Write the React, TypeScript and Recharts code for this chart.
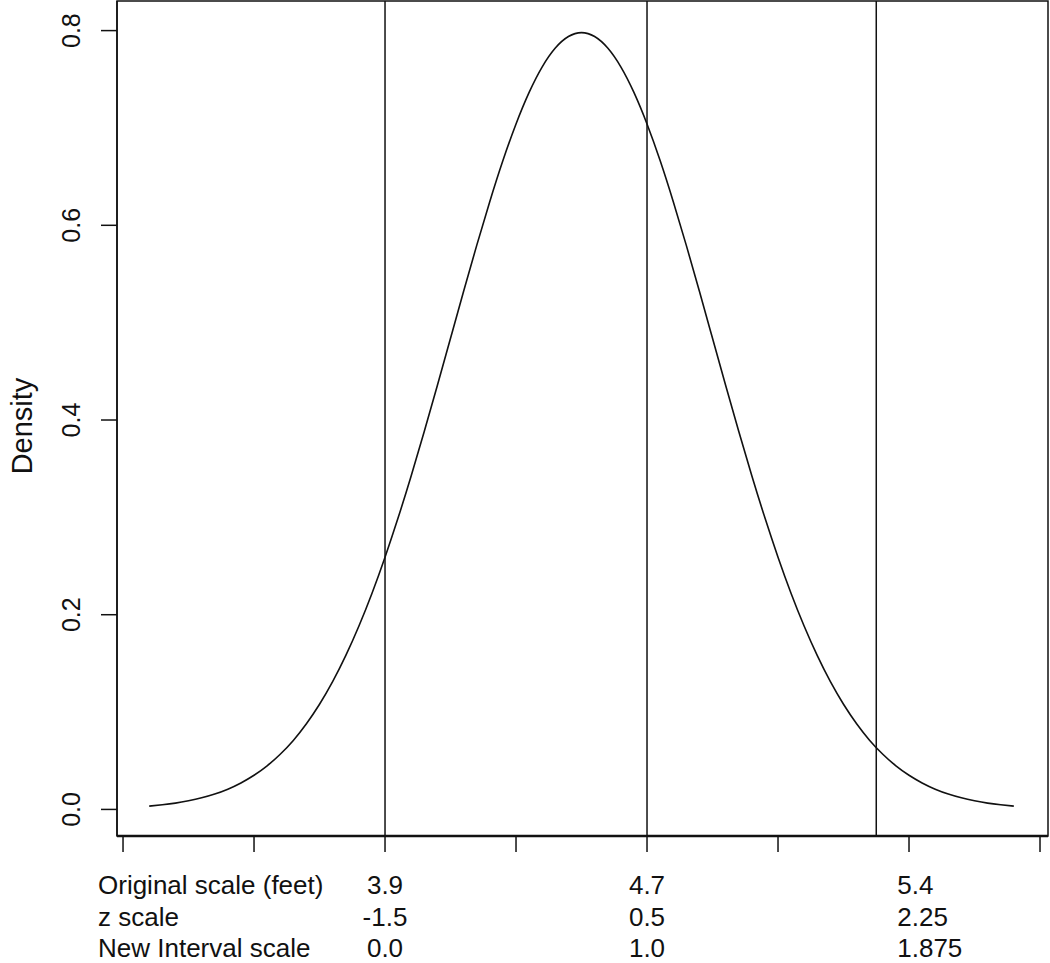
import React from 'react'
import {
  LineChart,
  Line,
  XAxis,
  YAxis,
  ReferenceLine,
  ReferenceArea,
} from 'recharts'

// curve samples (x in axis units, density)
const curveX = [
  0.1, 0.15, 0.2, 0.25, 0.3, 0.35, 0.4, 0.45, 0.5, 0.55, 0.6, 0.65,
  0.7, 0.75, 0.8, 0.85, 0.9, 0.95, 1.0, 1.05, 1.1, 1.15, 1.2, 1.25,
  1.3, 1.35, 1.4, 1.45, 1.5, 1.55, 1.6, 1.65, 1.7, 1.75, 1.8, 1.85,
  1.9, 1.95, 2.0, 2.05, 2.1, 2.15, 2.2, 2.25, 2.3, 2.35, 2.4, 2.45,
  2.5, 2.55, 2.6, 2.65, 2.7, 2.75, 2.8, 2.85, 2.9, 2.95, 3.0, 3.05,
  3.1, 3.15, 3.2, 3.25, 3.3, 3.35, 3.4,
]
const density = [
  0.0034, 0.0048, 0.0065, 0.0089, 0.0119, 0.0158, 0.0208, 0.0272, 0.0351, 0.0448, 0.0567, 0.0709,
  0.088, 0.108, 0.1312, 0.1579, 0.1881, 0.2218, 0.2591, 0.2995, 0.3428, 0.3884, 0.4357, 0.4839,
  0.5322, 0.5794, 0.6245, 0.6665, 0.7041, 0.7365, 0.7628, 0.7821, 0.7939, 0.7979, 0.7939, 0.7821,
  0.7628, 0.7365, 0.7041, 0.6665, 0.6245, 0.5794, 0.5322, 0.4839, 0.4357, 0.3884, 0.3428, 0.2995,
  0.2591, 0.2218, 0.1881, 0.1579, 0.1312, 0.108, 0.088, 0.0709, 0.0567, 0.0448, 0.0351, 0.0272,
  0.0208, 0.0158, 0.0119, 0.0089, 0.0065, 0.0048, 0.0034,
]

const xTicks = [0, 0.5, 1.0, 1.5, 2.0, 2.5, 3.0, 3.5]
const yTicks = [0, 0.2, 0.4, 0.6, 0.8]

// vertical cut lines and the three label rows under them
const cutPoints = [1.0, 2.0, 2.875]
const scaleNames = ['Original scale (feet)', 'z scale', 'New Interval scale']
const originalScale = ['3.9', '4.7', '5.4']
const zScale = ['-1.5', '0.5', '2.25']
const intervalScale = ['0.0', '1.0', '1.875']

const X_DOMAIN: [number, number] = [-0.023, 3.5305]
const Y_DOMAIN: [number, number] = [-0.0273, 0.8304]

const FONT = '"Liberation Sans", Arial, Helvetica, sans-serif'
const ROW_Y = [894, 926, 957]

const data = curveX.map((x, i) => ({ x, y: density[i] }))

const YTick = (props: any) => {
  const { y, payload } = props
  const tx = 80
  return (
    <text
      x={tx}
      y={y}
      transform={`rotate(-90, ${tx}, ${y})`}
      textAnchor="middle"
      fontSize={25}
      fontFamily={FONT}
      fill="#111"
    >
      {Number(payload.value).toFixed(1)}
    </text>
  )
}

const EmptyTick = () => <g />

const cutLabel = (i: number) => (props: any) => {
  const vx = props.viewBox?.x ?? 0
  const anchor = i === 2 ? 'start' : 'middle'
  const x = i === 2 ? vx + 21 : vx
  const vals = [originalScale[i], zScale[i], intervalScale[i]]
  return (
    <g>
      {vals.map((v, r) => (
        <text
          key={r}
          x={x}
          y={ROW_Y[r]}
          textAnchor={anchor}
          fontSize={26}
          fontFamily={FONT}
          fill="#111"
        >
          {v}
        </text>
      ))}
    </g>
  )
}

export default function App() {
  return (
    <div style={{ position: 'absolute', left: 0, top: 0, width: 1050, height: 963, background: '#fff' }}>
      <LineChart
        width={1050}
        height={963}
        data={data}
        margin={{ top: 1, right: 2, bottom: 0, left: 0 }}
      >
        <XAxis
          dataKey="x"
          type="number"
          domain={X_DOMAIN}
          allowDataOverflow
          ticks={xTicks}
          height={127}
          tickSize={16}
          tick={EmptyTick}
          axisLine={{ stroke: '#111', strokeWidth: 2.5 }}
          tickLine={{ stroke: '#111', strokeWidth: 1.5 }}
        />
        <YAxis
          type="number"
          domain={Y_DOMAIN}
          allowDataOverflow
          ticks={yTicks}
          width={117}
          tickSize={16}
          tick={YTick}
          axisLine={{ stroke: '#111', strokeWidth: 1.5 }}
          tickLine={{ stroke: '#111', strokeWidth: 1.5 }}
        />
        <ReferenceArea
          x1={X_DOMAIN[0]}
          x2={X_DOMAIN[1]}
          y1={Y_DOMAIN[0]}
          y2={Y_DOMAIN[1]}
          ifOverflow="visible"
          fill="none"
          fillOpacity={0}
          stroke="#111"
          strokeWidth={1.5}
        />
        {cutPoints.map((c, i) => (
          <ReferenceLine
            key={c}
            x={c}
            stroke="#111"
            strokeWidth={1.5}
            label={cutLabel(i)}
          />
        ))}
        <Line
          type="natural"
          dataKey="y"
          stroke="#111"
          strokeWidth={1.6}
          dot={false}
          activeDot={false}
          isAnimationActive={false}
        />
      </LineChart>
      <svg
        width={1050}
        height={963}
        style={{ position: 'absolute', left: 0, top: 0, pointerEvents: 'none' }}
      >
        <text
          x={32}
          y={426}
          transform="rotate(-90, 32, 426)"
          textAnchor="middle"
          fontSize={29}
          fontFamily={FONT}
          fill="#111"
        >
          Density
        </text>
        {scaleNames.map((s, r) => (
          <text key={s} x={98} y={ROW_Y[r]} fontSize={26} fontFamily={FONT} fill="#111">
            {s}
          </text>
        ))}
      </svg>
    </div>
  )
}
